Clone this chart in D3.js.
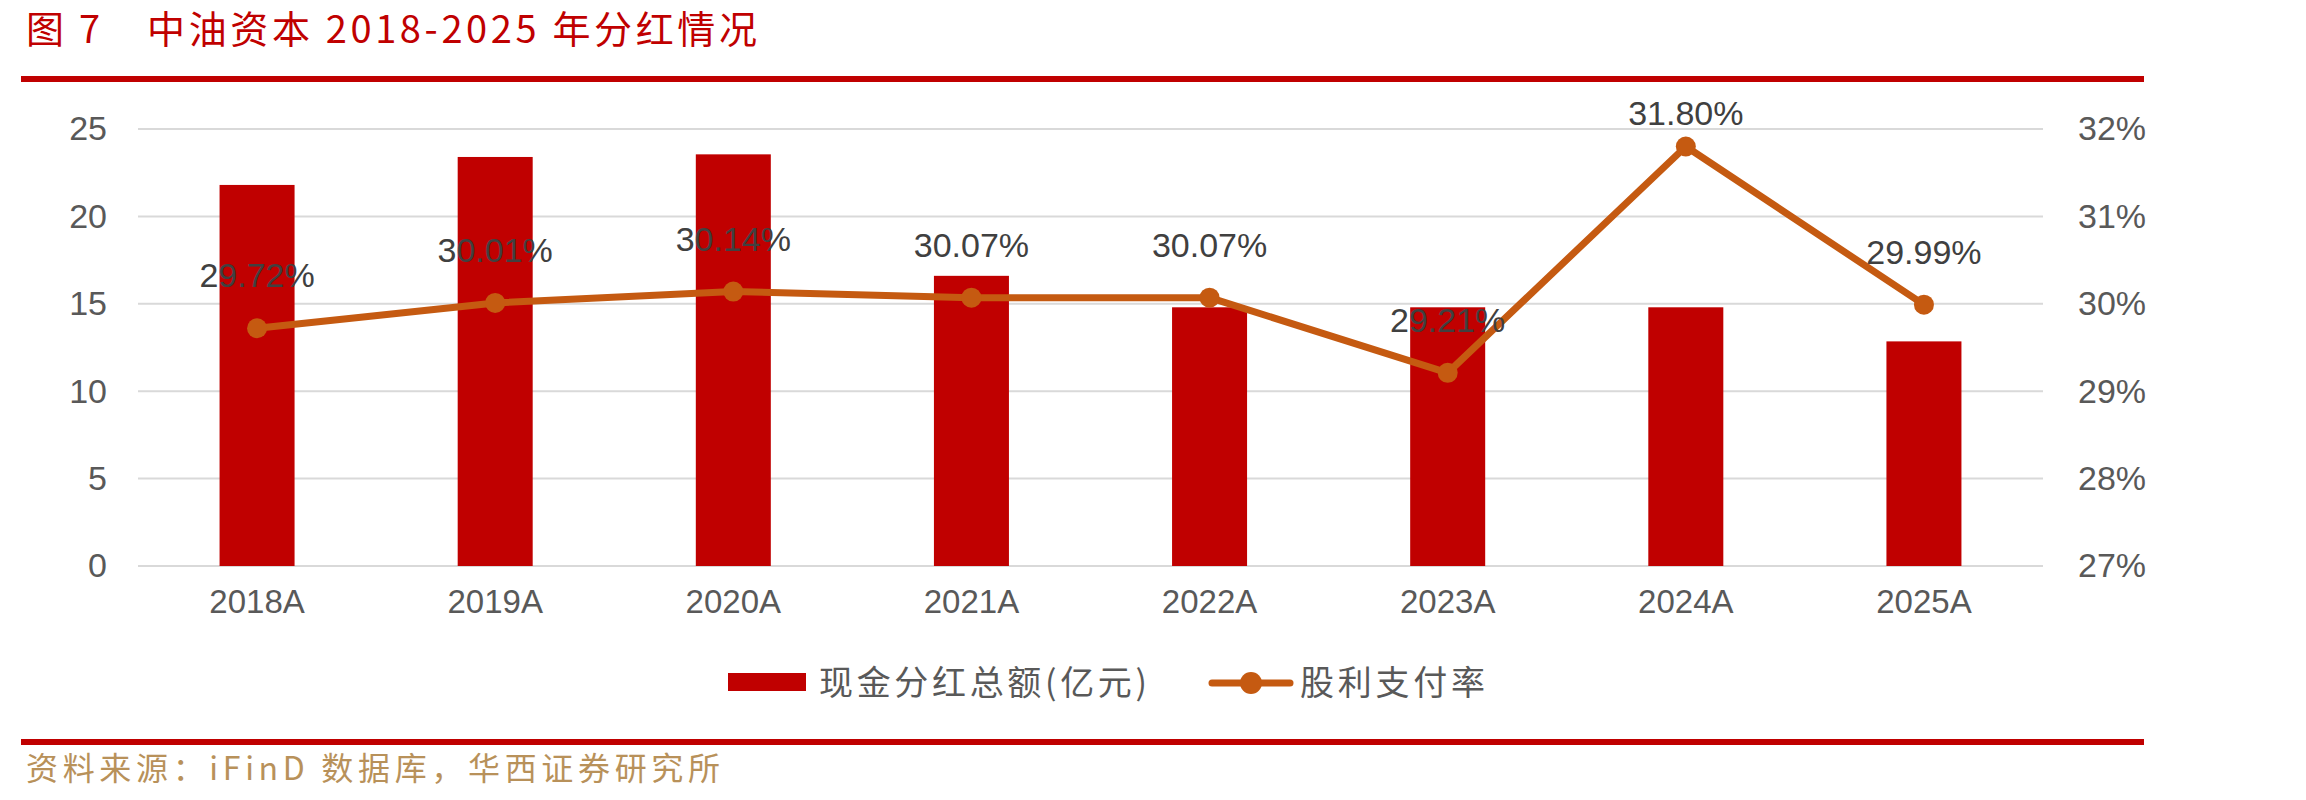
<!DOCTYPE html>
<html>
<head>
<meta charset="utf-8">
<script src="https://cdn.jsdelivr.net/npm/d3@7"></script>
<style>
  body { margin: 0; background: #fff; }
  svg { display: block; }
</style>
</head>
<body>
<script>
// data
var years = ["2018A", "2019A", "2020A", "2021A", "2022A", "2023A", "2024A", "2025A"];
var dividend = [21.8, 23.4, 23.55, 16.6, 14.8, 14.8, 14.8, 12.85];   // 现金分红总额(亿元)
var payout = [29.72, 30.01, 30.14, 30.07, 30.07, 29.21, 31.80, 29.99]; // 股利支付率 %
var leftTicks = [0, 5, 10, 15, 20, 25];
var rightTicks = [27, 28, 29, 30, 31, 32];

var width = 2306;
var height = 800;

var plot = { left: 138, right: 2043, top: 129, bottom: 566 };

var red = "#C00000";
var orange = "#C55A11";
var grey = "#595959";
var numFont = "'Liberation Sans Narrow', 'Arial Narrow', 'Liberation Sans', sans-serif";
var cjkFont = "'Noto Sans CJK SC', sans-serif";

var svg = d3.select("body")
    .append("svg")
    .attr("width", width)
    .attr("height", height);

// title + rules
svg.append("text")
    .attr("x", 26)
    .attr("y", 43)
    .attr("fill", red)
    .attr("font-family", cjkFont)
    .attr("font-size", 38)
    .attr("textLength", 74)
    .text("图 7");

svg.append("text")
    .attr("x", 147)
    .attr("y", 43)
    .attr("fill", red)
    .attr("font-family", cjkFont)
    .attr("font-size", 38)
    .attr("textLength", 610)
    .text("中油资本 2018-2025 年分红情况");

svg.append("rect")
    .attr("x", 21).attr("y", 76)
    .attr("width", 2123).attr("height", 6)
    .attr("fill", red);

svg.append("rect")
    .attr("x", 21).attr("y", 739)
    .attr("width", 2123).attr("height", 6)
    .attr("fill", red);

svg.append("text")
    .attr("x", 26)
    .attr("y", 780)
    .attr("fill", "#B8915A")
    .attr("font-family", cjkFont)
    .attr("font-size", 32)
    .attr("textLength", 694)
    .text("资料来源：iFinD 数据库，华西证券研究所");

// scales
var x = d3.scaleBand()
    .domain(years)
    .range([plot.left, plot.right])
    .padding(0);

var yLeft = d3.scaleLinear()
    .domain([0, 25])
    .range([plot.bottom, plot.top]);

var yRight = d3.scaleLinear()
    .domain([27, 32])
    .range([plot.bottom, plot.top]);

var barW = x.bandwidth() * 0.315;

// gridlines
svg.append("g")
    .selectAll("line")
    .data(leftTicks)
    .enter()
    .append("line")
    .attr("x1", plot.left)
    .attr("x2", plot.right)
    .attr("y1", function(d) { return yLeft(d); })
    .attr("y2", function(d) { return yLeft(d); })
    .attr("stroke", "#D9D9D9")
    .attr("stroke-width", 2);

// left axis
var leftAxis = svg.append("g")
    .attr("transform", "translate(" + plot.left + ",0)")
    .call(d3.axisLeft(yLeft).tickValues(leftTicks).tickSize(0).tickPadding(31));
leftAxis.select(".domain").remove();
leftAxis.selectAll("text")
    .attr("fill", grey)
    .attr("font-family", numFont)
    .attr("font-size", 34);

// right axis
var rightAxis = svg.append("g")
    .attr("transform", "translate(" + plot.right + ",0)")
    .call(d3.axisRight(yRight).tickValues(rightTicks).tickSize(0).tickPadding(35)
        .tickFormat(function(d) { return d + "%"; }));
rightAxis.select(".domain").remove();
rightAxis.selectAll("text")
    .attr("fill", grey)
    .attr("font-family", numFont)
    .attr("font-size", 34);

// bottom axis
var bottomAxis = svg.append("g")
    .attr("transform", "translate(0," + plot.bottom + ")")
    .call(d3.axisBottom(x).tickSize(0).tickPadding(24));
bottomAxis.select(".domain").remove();
bottomAxis.selectAll("text")
    .attr("fill", grey)
    .attr("font-family", numFont)
    .attr("font-size", 33);

// bars
svg.append("g")
    .selectAll("rect")
    .data(dividend)
    .enter()
    .append("rect")
    .attr("x", function(d, i) { return x(years[i]) + x.bandwidth() / 2 - barW / 2; })
    .attr("y", function(d) { return yLeft(d); })
    .attr("width", barW)
    .attr("height", function(d) { return yLeft(0) - yLeft(d); })
    .attr("fill", red);

// payout line
var line = d3.line()
    .x(function(d, i) { return x(years[i]) + x.bandwidth() / 2; })
    .y(function(d) { return yRight(d); });

svg.append("path")
    .datum(payout)
    .attr("d", line)
    .attr("fill", "none")
    .attr("stroke", orange)
    .attr("stroke-width", 7)
    .attr("stroke-linejoin", "round");

svg.append("g")
    .selectAll("circle")
    .data(payout)
    .enter()
    .append("circle")
    .attr("cx", function(d, i) { return x(years[i]) + x.bandwidth() / 2; })
    .attr("cy", function(d) { return yRight(d); })
    .attr("r", 10)
    .attr("fill", orange);

// data labels
svg.append("g")
    .selectAll("text")
    .data(payout)
    .enter()
    .append("text")
    .attr("x", function(d, i) { return x(years[i]) + x.bandwidth() / 2; })
    .attr("y", function(d) { return Math.max(yRight(d) - 53, 113) + 12; })
    .attr("text-anchor", "middle")
    .attr("fill", "#404040")
    .attr("font-family", numFont)
    .attr("font-size", 34)
    .text(function(d) { return d.toFixed(2) + "%"; });

// legend
var legend = svg.append("g");
legend.append("rect")
    .attr("x", 728).attr("y", 673)
    .attr("width", 78).attr("height", 18)
    .attr("fill", red);
legend.append("text")
    .attr("x", 819).attr("y", 695)
    .attr("fill", grey)
    .attr("font-family", cjkFont)
    .attr("font-size", 34)
    .attr("textLength", 328)
    .text("现金分红总额(亿元)");
legend.append("line")
    .attr("x1", 1212).attr("x2", 1290)
    .attr("y1", 683).attr("y2", 683)
    .attr("stroke", orange)
    .attr("stroke-width", 7)
    .attr("stroke-linecap", "round");
legend.append("circle")
    .attr("cx", 1251).attr("cy", 683)
    .attr("r", 11)
    .attr("fill", orange);
legend.append("text")
    .attr("x", 1300).attr("y", 695)
    .attr("fill", grey)
    .attr("font-family", cjkFont)
    .attr("font-size", 34)
    .attr("textLength", 185)
    .text("股利支付率");
</script>
</body>
</html>
